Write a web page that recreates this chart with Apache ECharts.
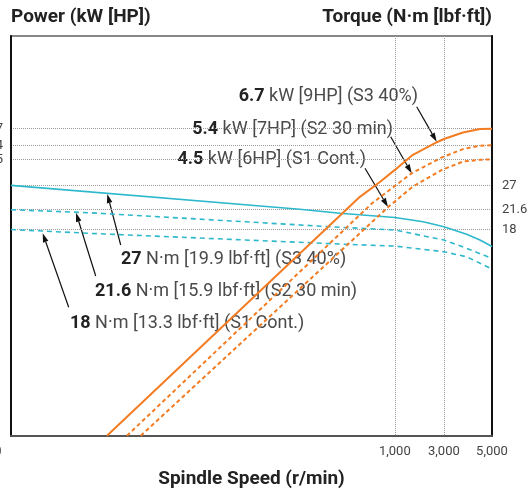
<!DOCTYPE html>
<html lang="en">
<head>
<meta charset="UTF-8">
<title>Spindle output</title>
<style>
  html, body { margin: 0; padding: 0; background: #fff; }
  #main { width: 530px; height: 490px; }
</style>
</head>
<body>
<div id="main"></div>
<script src="https://cdn.jsdelivr.net/npm/echarts@6/dist/echarts.min.js"></script>
<script>
// speed in r/min, power in kW, torque in N·m
var speedTicks = [0, 1000, 3000, 5000];
var powerTicks = [4.5, 5.4, 6.7];
var torqueTicks = [18, 21.6, 27];

var powerS3Speed = [250, 909, 961, 1000, 1735, 2714, 3000, 3792, 4500, 5000];
var powerS3 = [0.123, 2.76, 3.35, 3.92, 4.77, 5.62, 5.86, 6.38, 6.68, 6.7];
var powerS2Speed = [302, 940, 1000, 1694, 2918, 3792, 4500, 5000];
var powerS2 = [0.123, 2.53, 3.18, 3.76, 4.61, 5.14, 5.37, 5.4];
var powerS1Speed = [338, 982, 1735, 2918, 3792, 4500, 5000];
var powerS1 = [0.123, 2.41, 3.16, 3.92, 4.37, 4.47, 4.5];

var torqueS3Speed = [0, 752, 857, 1000, 2155, 3000, 3946, 4500, 5000];
var torqueS3 = [27, 21.7, 20.9, 20.1, 19.34, 18.47, 17.22, 16.34, 15.39];
var torqueS2Speed = [0, 205, 857, 1000, 3000, 3946, 5000];
var torqueS2 = [21.6, 21.0, 18.37, 17.92, 16.34, 15.14, 13.8];
var torqueS1Speed = [0, 205, 857, 1000, 3000, 3946, 5000];
var torqueS1 = [18, 17.38, 15.75, 15.46, 14.67, 14.01, 12.51];

// the speed axis is stretched: 0-1000 takes most of the width
var tickPos = [0, 79.8, 90, 100];
function toPos(s) {
    for (var i = 1; i < speedTicks.length; i++) {
        if (s <= speedTicks[i]) {
            var t = (s - speedTicks[i - 1]) / (speedTicks[i] - speedTicks[i - 1]);
            return tickPos[i - 1] + t * (tickPos[i] - tickPos[i - 1]);
        }
    }
    return tickPos[tickPos.length - 1];
}
function pairs(xs, ys) {
    return xs.map(function (s, i) { return [toPos(s), ys[i]]; });
}

var orange = '#f37c22';
var teal = '#2db8cb';
var fontFamily = 'Roboto';

function arrow(x1, y1, x2, y2) {
    var dx = x2 - x1, dy = y2 - y1;
    var len = Math.sqrt(dx * dx + dy * dy);
    var ux = dx / len, uy = dy / len;
    var hl = 9, hw = 2.8;
    var bx = x2 - ux * hl, by = y2 - uy * hl;
    return [
        {type: 'line', shape: {x1: x1, y1: y1, x2: bx, y2: by}, style: {stroke: '#111', lineWidth: 1.2}},
        {type: 'polygon', shape: {points: [[x2, y2], [bx - uy * hw, by + ux * hw], [bx + uy * hw, by - ux * hw]]}, style: {fill: '#111'}}
    ];
}
function note(x, y, num, rest, align) {
    return {
        type: 'text', x: x, y: y,
        style: {
            text: '{b|' + num + '} ' + rest,
            align: align, verticalAlign: 'middle',
            fontFamily: fontFamily, fontSize: 18, fill: '#4a4a4a',
            rich: {b: {fontFamily: fontFamily, fontSize: 18, fontWeight: 'bold', fill: '#222'}}
        }
    };
}

var graphics = [
    note(418, 96, '6.7', 'kW [9HP] (S3 40%)', 'right'),
    note(393, 129, '5.4', 'kW [7HP] (S2 30 min)', 'right'),
    note(366, 159, '4.5', 'kW [6HP] (S1 Cont.)', 'right'),
    note(121, 259, '27', 'N·m [19.9 lbf·ft] (S3 40%)', 'left'),
    note(95, 291, '21.6', 'N·m [15.9 lbf·ft] (S2 30 min)', 'left'),
    note(70, 323, '18', 'N·m [13.3 lbf·ft] (S1 Cont.)', 'left')
].concat(
    arrow(416.7, 106.7, 436.7, 141.7),
    arrow(390.7, 136.7, 411.7, 173.3),
    arrow(365, 168.3, 388, 207),
    arrow(120.7, 245, 107.3, 194),
    arrow(95.7, 276, 76, 212.7),
    arrow(68.7, 307.3, 42.7, 233.3)
);

var gridLine = {show: true, lineStyle: {color: '#9a9a9a', type: 'dotted', width: 1}};

var chart = echarts.init(document.getElementById('main'));
chart.setOption({
    animation: false,
    title: [
        {text: 'Power (kW [HP])', left: 11, top: 8, padding: 0,
            textStyle: {fontFamily: fontFamily, fontSize: 19, fontWeight: 'bold', color: '#222'}},
        {text: 'Torque (N·m [lbf·ft])', right: 38, top: 8, padding: 0,
            textStyle: {fontFamily: fontFamily, fontSize: 19, fontWeight: 'bold', color: '#222'}}
    ],
    grid: {left: 11, right: 38, top: 36, bottom: 54, show: true, borderColor: '#888', borderWidth: 2,
        containLabel: false, outerBoundsMode: 'none'},
    xAxis: {
        type: 'value', min: 0, max: 100,
        name: 'Spindle Speed (r/min)', nameLocation: 'middle', nameGap: 34,
        nameTextStyle: {fontFamily: fontFamily, fontSize: 19, fontWeight: 'bold', color: '#222'},
        axisLine: {show: true, lineStyle: {color: '#555', width: 2}},
        axisTick: {show: false, customValues: tickPos},
        axisLabel: {
            customValues: tickPos, margin: 9,
            fontFamily: fontFamily, fontSize: 13, color: '#444',
            formatter: function (v) {
                var best = 0;
                for (var i = 1; i < tickPos.length; i++) {
                    if (Math.abs(tickPos[i] - v) < Math.abs(tickPos[best] - v)) best = i;
                }
                var s = speedTicks[best];
                if (s === 0) return '{z|0}';
                return s.toLocaleString('en-US');
            },
            rich: {z: {fontFamily: fontFamily, fontSize: 13, color: '#444', padding: [0, 26, 0, 0]}}
        },
        splitLine: gridLine
    },
    yAxis: [
        {
            type: 'log', logBase: 10, min: 0.1226, max: 22.41, position: 'left',
            axisLine: {show: true, lineStyle: {color: '#111', width: 2}},
            axisTick: {show: false, customValues: powerTicks},
            axisLabel: {customValues: powerTicks, margin: 8, fontFamily: fontFamily, fontSize: 13,
                color: '#444', padding: [0, 0, 6, 0]},
            splitLine: gridLine
        },
        {
            type: 'log', logBase: 10, min: 2.698, max: 106.6, position: 'right',
            axisLine: {show: true, lineStyle: {color: '#111', width: 2}},
            axisTick: {show: false, customValues: torqueTicks},
            axisLabel: {customValues: torqueTicks, margin: 10, fontFamily: fontFamily, fontSize: 13,
                color: '#444', padding: [0, 0, 8, 0]},
            splitLine: gridLine
        }
    ],
    series: [
        {type: 'line', yAxisIndex: 1, data: pairs(torqueS1Speed, torqueS1), showSymbol: false,
            lineStyle: {color: teal, width: 1.6, type: [5, 4]}},
        {type: 'line', yAxisIndex: 1, data: pairs(torqueS2Speed, torqueS2), showSymbol: false,
            lineStyle: {color: teal, width: 1.6, type: [5, 4]}},
        {type: 'line', yAxisIndex: 1, data: pairs(torqueS3Speed, torqueS3), showSymbol: false,
            lineStyle: {color: teal, width: 1.6}},
        {type: 'line', yAxisIndex: 0, data: pairs(powerS1Speed, powerS1), showSymbol: false,
            lineStyle: {color: orange, width: 2, type: [4, 3]}},
        {type: 'line', yAxisIndex: 0, data: pairs(powerS2Speed, powerS2), showSymbol: false,
            lineStyle: {color: orange, width: 2, type: [4, 3]}},
        {type: 'line', yAxisIndex: 0, data: pairs(powerS3Speed, powerS3), showSymbol: false,
            lineStyle: {color: orange, width: 2}}
    ],
    graphic: graphics
});
</script>
</body>
</html>
